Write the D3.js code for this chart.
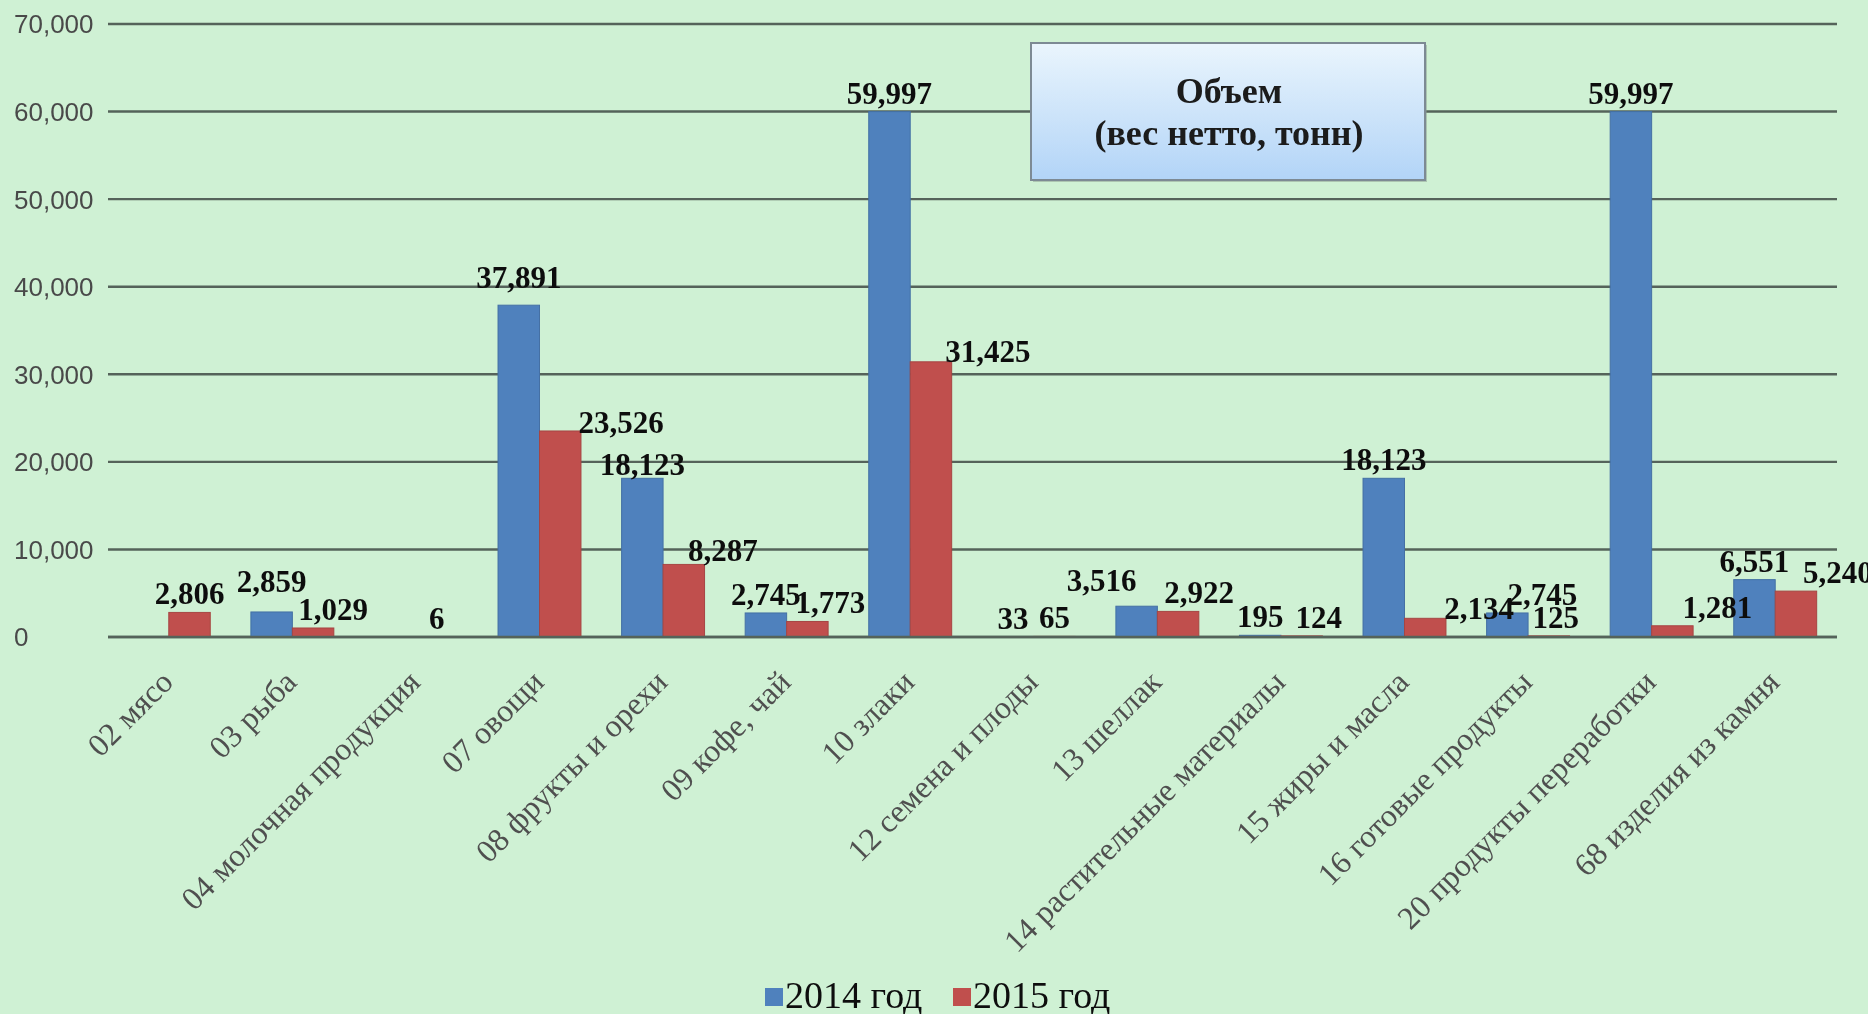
<!DOCTYPE html>
<html>
<head>
<meta charset="utf-8">
<script src="https://cdn.jsdelivr.net/npm/d3@7"></script>
<style>
    html, body { margin: 0; padding: 0; background: #cff1d4; overflow: hidden; }
    svg { display: block; }
</style>
</head>
<body>
<svg id="chart"></svg>
<script>
// данные
const categories = [
    "02 мясо", "03 рыба", "04 молочная продукция", "07 овощи",
    "08 фрукты и орехи", "09 кофе, чай", "10 злаки", "12 семена и плоды",
    "13 шеллак", "14 растительные материалы", "15 жиры и масла",
    "16 готовые продукты", "20 продукты переработки", "68 изделия из камня"
];
const seriesNames = ["2014 год", "2015 год"];
const values2014 = [null, 2859, null, 37891, 18123, 2745, 59997, 33, 3516, 195, 18123, 2745, 59997, 6551];
const values2015 = [2806, 1029, 6, 23526, 8287, 1773, 31425, 65, 2922, 124, 2134, 125, 1281, 5240];
const yTicks = [0, 10000, 20000, 30000, 40000, 50000, 60000, 70000];
const boxTitle = ["Объем", "(вес нетто, тонн)"];

// ручные сдвиги подписей (как в исходной диаграмме), px
const nudgeX = [
    [0, 0, 0, 0, 0, 0, 0, 0, -35, 0, 0, 35, 0, 0],
    [0, 20, 0, 61, 39, 23, 57, 0, 21, 17, 54, 7, 45, 42]
];
const nudgeY = [
    [0, -12, 0, -9, 5, 0, 0, 0, -7, 0, 0, 0, 0, 0],
    [0, 0, 0, 10, 5, 0, 8, 0, 0, 0, 9, 0, 0, 0]
];

const W = 1868, H = 1014;
const colors = ["#4f81bd", "#c0504d"];
const gridColor = "#54645a";

const svg = d3.select("#chart").attr("width", W).attr("height", H);

svg.append("rect").attr("width", W).attr("height", H).attr("fill", "#cff1d4");

const defs = svg.append("defs");
const grad = defs.append("linearGradient")
    .attr("id", "boxGrad").attr("x1", 0).attr("y1", 0).attr("x2", 0).attr("y2", 1);
grad.append("stop").attr("offset", "0%").attr("stop-color", "#eaf5fd");
grad.append("stop").attr("offset", "100%").attr("stop-color", "#b2d4f7");
defs.append("filter").attr("id", "soft")
    .append("feGaussianBlur").attr("stdDeviation", 0.55);

const x0 = d3.scaleBand().domain(categories).range([107, 1837]).paddingInner(0).paddingOuter(0);
const x1 = d3.scaleBand().domain([0, 1]).range([0, x0.bandwidth()]).paddingOuter(0.49).paddingInner(0);
const y = d3.scaleLinear().domain([0, 70000]).range([637, 24]);

const g = svg.append("g").attr("filter", "url(#soft)");

// сетка
g.append("g")
    .selectAll("line")
    .data(yTicks)
    .join("line")
    .attr("x1", 108).attr("x2", 1837)
    .attr("y1", d => y(d)).attr("y2", d => y(d))
    .attr("stroke", gridColor)
    .attr("stroke-width", 2.4);

// подписи оси Y
g.append("g")
    .selectAll("text")
    .data(yTicks)
    .join("text")
    .attr("x", 14)
    .attr("y", d => y(d))
    .attr("dy", "0.36em")
    .attr("font-family", "Liberation Sans, Arial, sans-serif")
    .attr("font-size", 26)
    .attr("fill", "#4a4a4a")
    .text(d => d3.format(",")(d));

// столбцы
const series = [values2014, values2015];
const bars = [];
categories.forEach((c, i) => {
    series.forEach((vals, s) => {
        if (vals[i] !== null) bars.push({ cat: c, i: i, s: s, v: vals[i] });
    });
});

g.append("g")
    .selectAll("rect")
    .data(bars)
    .join("rect")
    .attr("x", d => x0(d.cat) + x1(d.s))
    .attr("y", d => y(d.v))
    .attr("width", x1.bandwidth())
    .attr("height", d => y(0) - y(d.v))
    .attr("fill", d => colors[d.s])
    .attr("stroke", d => d3.color(colors[d.s]).darker(0.4))
    .attr("stroke-width", 1);

// ось 0 поверх столбцов
g.append("line")
    .attr("x1", 108).attr("x2", 1837)
    .attr("y1", y(0)).attr("y2", y(0))
    .attr("stroke", gridColor).attr("stroke-width", 2.4);

// подписи значений
g.append("g")
    .selectAll("text")
    .data(bars)
    .join("text")
    .attr("x", d => x0(d.cat) + x1(d.s) + x1.bandwidth() / 2 + nudgeX[d.s][d.i])
    .attr("y", d => y(d.v) - 8 + nudgeY[d.s][d.i])
    .attr("text-anchor", "middle")
    .attr("font-family", "Liberation Serif, Times New Roman, serif")
    .attr("font-weight", "bold")
    .attr("font-size", 31)
    .attr("fill", "#111")
    .text(d => d3.format(",")(d.v));

// подписи категорий
g.append("g")
    .selectAll("text")
    .data(categories)
    .join("text")
    .attr("transform", d => `translate(${x0(d) + x0.bandwidth() / 2 + 6},${y(0) + 47}) rotate(-45)`)
    .attr("text-anchor", "end")
    .attr("font-family", "Liberation Serif, Times New Roman, serif")
    .attr("font-size", 32)
    .attr("fill", "#505050")
    .text(d => d);

// рамка с заголовком
const box = g.append("g");
box.append("rect")
    .attr("x", 1033).attr("y", 45).attr("width", 394).attr("height", 137)
    .attr("fill", "#8a9a8e").attr("opacity", 0.5);
box.append("rect")
    .attr("x", 1031).attr("y", 43).attr("width", 394).attr("height", 137)
    .attr("fill", "url(#boxGrad)")
    .attr("stroke", "#7d8a94").attr("stroke-width", 2);
box.selectAll("text")
    .data(boxTitle)
    .join("text")
    .attr("x", 1229)
    .attr("y", (d, i) => 103 + i * 42)
    .attr("text-anchor", "middle")
    .attr("font-family", "Liberation Serif, Times New Roman, serif")
    .attr("font-weight", "bold")
    .attr("font-size", 36)
    .attr("fill", "#1a1a1a")
    .text(d => d);

// легенда
const legend = g.append("g");
const legendX = [765, 953];
seriesNames.forEach((name, s) => {
    legend.append("rect")
        .attr("x", legendX[s]).attr("y", 988)
        .attr("width", 18).attr("height", 18)
        .attr("fill", colors[s]);
    legend.append("text")
        .attr("x", legendX[s] + 20).attr("y", 1008)
        .attr("font-family", "Liberation Serif, Times New Roman, serif")
        .attr("font-size", 38)
        .attr("fill", "#111")
        .text(name);
});
</script>
</body>
</html>
